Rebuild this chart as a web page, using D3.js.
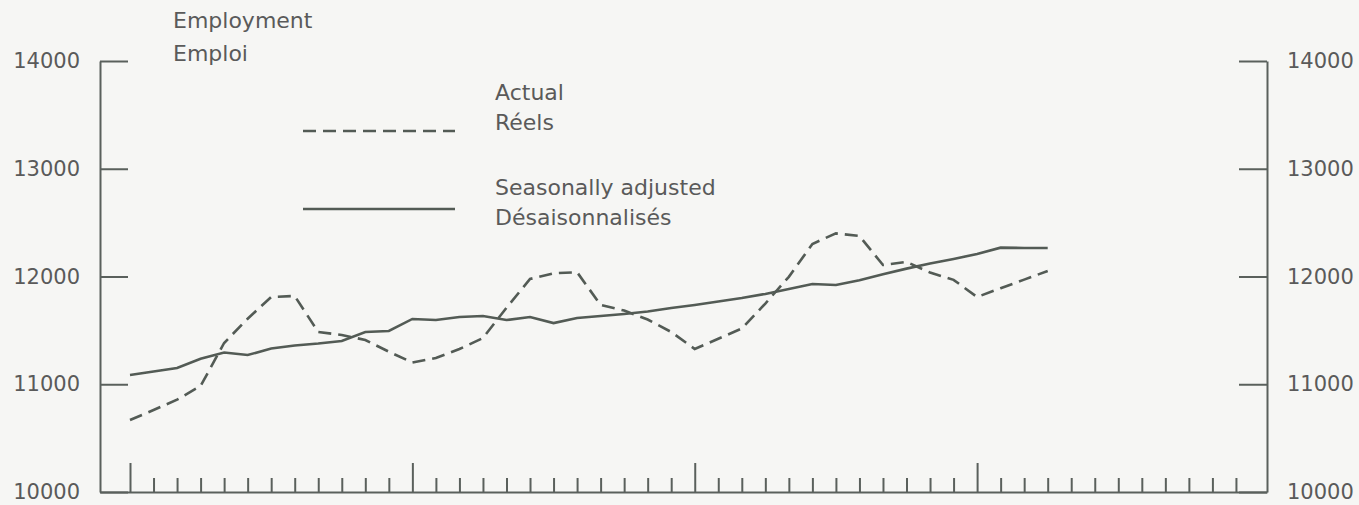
<!DOCTYPE html>
<meta charset="utf-8">
<style>
    body { margin: 0; background: #f6f6f4; }
    .axis path, .axis line { stroke: #5a605c; stroke-width: 2px; }
    .axis text { font: 21px "DejaVu Sans", sans-serif; fill: #5a5a5a; }
    .line { fill: none; stroke: #535b55; stroke-width: 2.6px; }
    .dashed { stroke-dasharray: 13, 7; }
    .label { font: 22px "DejaVu Sans", sans-serif; fill: #5a5a5a; }
</style>
<body>
<script src="https://d3js.org/d3.v7.min.js"></script>
<script>
    // monthly values, 4 years starting at month 0
    var actual = [10668, 10761, 10857, 10984, 11383, 11608, 11810, 11819, 11485, 11457,
                  11411, 11302, 11202, 11244, 11327, 11429, 11710, 11977, 12030, 12040,
                  11736, 11684, 11601, 11485, 11327, 11422, 11517, 11749, 11997, 12302,
                  12400, 12376, 12107, 12135, 12037, 11969, 11810, 11891, 11971, 12051];
    var adjusted = [11086, 11118, 11151, 11236, 11294, 11271, 11331, 11360, 11378, 11401,
                    11485, 11494, 11606, 11596, 11624, 11633, 11596, 11624, 11568, 11615,
                    11633, 11652, 11675, 11708, 11736, 11768, 11800, 11838, 11884, 11930,
                    11921, 11965, 12020, 12073, 12120, 12163, 12209, 12268, 12265, 12265];
    var yTicks = [10000, 11000, 12000, 13000, 14000];
    var monthTicks = d3.range(0, 48);
    var titleLines = ["Employment", "Emploi"];
    var legendItems = [
        {lines: ["Actual", "Réels"], dashed: true},
        {lines: ["Seasonally adjusted", "Désaisonnalisés"], dashed: false}
    ];

    var margin = {top: 61, right: 92, bottom: 13, left: 100},
        width = 1359 - margin.left - margin.right,
        height = 505 - margin.top - margin.bottom;

    var svg = d3.select("body").append("svg")
        .attr("width", 1359)
        .attr("height", 505)
      .append("g")
        .attr("transform", "translate(" + margin.left + "," + margin.top + ")");

    // axis frame starts a bit more than a month before the first tick
    var x = d3.scaleLinear().domain([-1.275, 48.32]).range([0, width]);
    var y = d3.scaleLinear().domain([10000, 14000]).range([height, 0]);

    // left axis, ticks pointing inward
    svg.append("g")
        .attr("class", "axis")
        .call(d3.axisLeft(y).tickValues(yTicks).tickSizeInner(-28).tickSizeOuter(0)
            .tickPadding(20).tickFormat(d3.format("d")));

    // right axis
    svg.append("g")
        .attr("class", "axis")
        .attr("transform", "translate(" + width + ",0)")
        .call(d3.axisRight(y).tickValues(yTicks).tickSizeInner(-28).tickSizeOuter(0)
            .tickPadding(20).tickFormat(d3.format("d")));

    // bottom axis, long tick at each January
    var xAxis = svg.append("g")
        .attr("class", "axis")
        .attr("transform", "translate(0," + height + ")")
        .call(d3.axisBottom(x).tickValues(monthTicks).tickSizeOuter(0).tickFormat(""));
    xAxis.selectAll(".tick line")
        .attr("y2", function(d) { return d % 12 === 0 ? -29 : -14; });

    var line = d3.line()
        .x(function(d, i) { return x(i); })
        .y(function(d) { return y(d); });

    svg.append("path")
        .datum(adjusted)
        .attr("class", "line")
        .attr("d", line);

    svg.append("path")
        .datum(actual)
        .attr("class", "line dashed")
        .attr("d", line);

    // title
    svg.append("text")
        .attr("class", "label")
        .selectAll("tspan")
        .data(titleLines)
        .enter().append("tspan")
        .attr("x", 73)
        .attr("y", function(d, i) { return -33 + i * 33; })
        .text(function(d) { return d; });

    // legend
    var legendTop = [39, 134],   // baseline of first text line
        legendLine = [70, 148];  // y of the sample line

    var legend = svg.selectAll(".legend")
        .data(legendItems)
        .enter().append("g")
        .attr("class", "legend")
        .attr("transform", "translate(203,0)");

    legend.append("line")
        .attr("class", function(d) { return d.dashed ? "line dashed" : "line"; })
        .attr("x1", 0)
        .attr("x2", 152)
        .attr("y1", function(d, i) { return legendLine[i]; })
        .attr("y2", function(d, i) { return legendLine[i]; });

    legend.append("text")
        .attr("class", "label")
        .each(function(d, i) {
            d3.select(this).selectAll("tspan")
                .data(d.lines)
                .enter().append("tspan")
                .attr("x", 192)
                .attr("y", function(t, j) { return legendTop[i] + j * 30; })
                .text(function(t) { return t; });
        });
</script>
</body>
